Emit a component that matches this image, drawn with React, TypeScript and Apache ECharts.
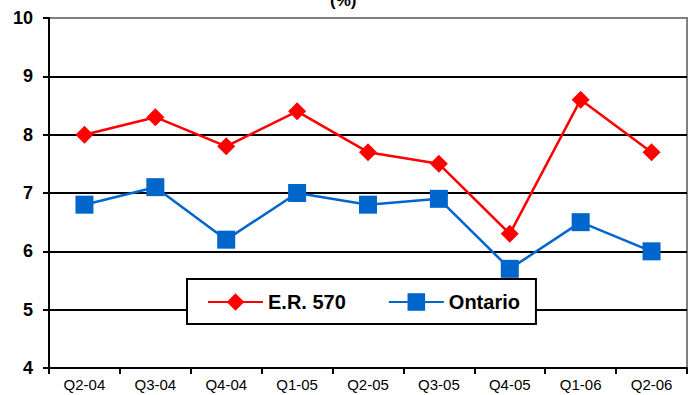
import React, { useEffect, useRef } from "react";
import * as echarts from "echarts";

const quarters = ["Q2-04", "Q3-04", "Q4-04", "Q1-05", "Q2-05", "Q3-05", "Q4-05", "Q1-06", "Q2-06"];
const er570 = [8.0, 8.3, 7.8, 8.4, 7.7, 7.5, 6.3, 8.6, 7.7];
const ontario = [6.8, 7.1, 6.2, 7.0, 6.8, 6.9, 5.7, 6.5, 6.0];

const FONT = "'Liberation Sans', Arial, sans-serif";

export default function App() {
  const ref = useRef<HTMLDivElement>(null);

  useEffect(() => {
    if (!ref.current) return;
    const chart = echarts.init(ref.current, null, { renderer: "svg" });
    chart.setOption({
      animation: false,
      backgroundColor: "#ffffff",
      textStyle: { fontFamily: FONT },
      graphic: [
        {
          type: "text",
          left: 330,
          top: -8,
          style: { text: "(%)", font: `bold 17px ${FONT}`, fill: "#000" },
        },
      ],
      grid: {
        left: 49,
        top: 18,
        right: 6,
        bottom: 27,
        show: true,
        borderColor: "#808080",
        borderWidth: 2,
        backgroundColor: "transparent",
      },
      legend: {
        left: 187,
        top: 279,
        padding: [13, 16, 12, 20],
        itemGap: 42,
        itemWidth: 55,
        itemHeight: 22,
        backgroundColor: "#ffffff",
        borderColor: "#000000",
        borderWidth: 2,
        borderRadius: 0,
        textStyle: { fontFamily: FONT, fontSize: 20, fontWeight: "bold", color: "#000" },
        data: ["E.R. 570", "Ontario"],
      },
      xAxis: {
        type: "category",
        data: quarters,
        boundaryGap: true,
        axisLine: { show: true, lineStyle: { color: "#000", width: 2 } },
        axisTick: { show: true, length: 6, lineStyle: { color: "#000", width: 2 } },
        axisLabel: { color: "#000", fontSize: 15, margin: 9, fontFamily: FONT },
        splitLine: { show: false },
      },
      yAxis: {
        type: "value",
        min: 4,
        max: 10,
        interval: 1,
        axisLine: { show: true, lineStyle: { color: "#000", width: 2 } },
        axisTick: { show: true, length: 6, lineStyle: { color: "#000", width: 2 } },
        axisLabel: { color: "#000", fontSize: 18, fontWeight: "bold", margin: 16, fontFamily: FONT },
        splitLine: {
          show: true,
          lineStyle: {
            color: ["#000", "#000", "#000", "#000", "#000", "#000", "#808080"],
            width: 2,
          },
        },
      },
      series: [
        {
          name: "E.R. 570",
          type: "line",
          data: er570,
          symbol: "diamond",
          symbolSize: 18,
          itemStyle: { color: "#ff0000" },
          lineStyle: { color: "#ff0000", width: 2.5 },
          z: 3,
        },
        {
          name: "Ontario",
          type: "line",
          data: ontario,
          symbol: "rect",
          symbolSize: 18,
          itemStyle: { color: "#0066cc" },
          lineStyle: { color: "#0066cc", width: 2.5 },
          z: 2,
        },
      ],
    });
    return () => chart.dispose();
  }, []);

  return <div ref={ref} style={{ width: 693, height: 395, position: "absolute", left: 0, top: 0 }} />;
}
